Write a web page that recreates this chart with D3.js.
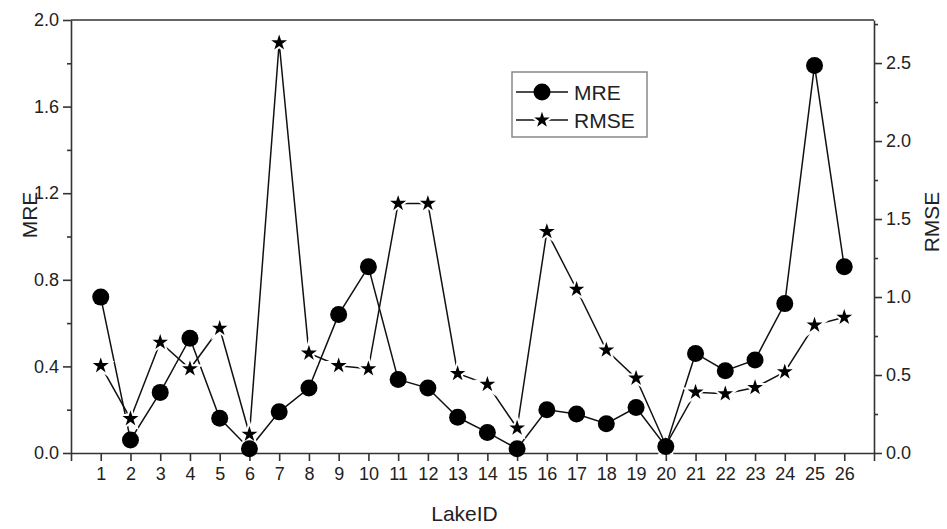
<!DOCTYPE HTML>
<head>
    <script src="https://cdn.jsdelivr.net/npm/d3@7"></script>
</head>
<body style="margin:0">
    <svg width="947" height="529"></svg>
</body>
<style>
text { font-family: "Liberation Sans", Arial, sans-serif; fill: #222; }
.axis path, .axis line { stroke: #333; stroke-width: 1.6; }
.axis text { font-size: 18px; fill: #222; }
</style>
<script>
// lake ids and the two error series
var lakes = d3.range(1, 27);
var mre  = [0.72, 0.06, 0.28, 0.53, 0.16, 0.02, 0.19, 0.30, 0.64, 0.86, 0.34, 0.30, 0.165,
            0.095, 0.02, 0.20, 0.18, 0.135, 0.21, 0.03, 0.46, 0.38, 0.43, 0.69, 1.79, 0.86];
var rmse = [0.56, 0.22, 0.71, 0.54, 0.80, 0.12, 2.63, 0.64, 0.56, 0.54, 1.60, 1.60, 0.51,
            0.44, 0.16, 1.42, 1.05, 0.66, 0.48, 0.05, 0.39, 0.38, 0.42, 0.52, 0.82, 0.87];
var mreTicks = [0, 0.4, 0.8, 1.2, 1.6, 2.0];
var rmseTicks = [0, 0.5, 1.0, 1.5, 2.0, 2.5];

var svg = d3.select("svg"),
    margin = {top: 20, right: 73, bottom: 76, left: 71},
    width = 947 - margin.left - margin.right,
    height = 529 - margin.top - margin.bottom;

var x = d3.scaleLinear().domain([0, 27]).range([0, width]);
var yL = d3.scaleLinear().domain([0, 2.0]).range([height, 0]);
var yR = d3.scaleLinear().domain([0, 2.776]).range([height, 0]);

var g = svg.append("g")
    .attr("transform", "translate(" + margin.left + "," + margin.top + ")");

// frame top line
g.append("line").attr("x1", 0).attr("x2", width).attr("y1", 0).attr("y2", 0)
    .attr("stroke", "#333").attr("stroke-width", 1.6);

// minor ticks
g.append("g").attr("class", "axis")
    .call(d3.axisLeft(yL).tickValues([0.2, 0.6, 1.0, 1.4, 1.8]).tickSize(4).tickFormat(""))
    .select(".domain").remove();
g.append("g").attr("class", "axis")
    .attr("transform", "translate(" + width + ",0)")
    .call(d3.axisRight(yR).tickValues([0.25, 0.75, 1.25, 1.75, 2.25, 2.75]).tickSize(4).tickFormat(""))
    .select(".domain").remove();

// major axes
g.append("g").attr("class", "axis")
    .call(d3.axisLeft(yL).tickValues(mreTicks).tickSize(8).tickSizeOuter(0).tickPadding(4)
        .tickFormat(d3.format(".1f")));
g.append("g").attr("class", "axis")
    .attr("transform", "translate(" + width + ",0)")
    .call(d3.axisRight(yR).tickValues(rmseTicks).tickSize(8).tickSizeOuter(0).tickPadding(4)
        .tickFormat(d3.format(".1f")));
g.append("g").attr("class", "axis")
    .attr("transform", "translate(0," + height + ")")
    .call(d3.axisBottom(x).tickValues(d3.range(0, 28)).tickSize(8).tickSizeOuter(0).tickPadding(6)
        .tickFormat(function(d) { return (d >= 1 && d <= 26) ? d : ""; }));

// axis titles
g.append("text").attr("x", width / 2 - 8).attr("y", height + 68)
    .attr("text-anchor", "middle").style("font-size", "21px").text("LakeID");
g.append("text").attr("transform", "translate(-34," + 195 + ") rotate(-90)")
    .attr("text-anchor", "middle").style("font-size", "21px").text("MRE");
g.append("text").attr("transform", "translate(" + (width + 65) + "," + 202 + ") rotate(-90)")
    .attr("text-anchor", "middle").style("font-size", "21px").text("RMSE");

// series
var lineL = d3.line().x(function(d, i) { return x(lakes[i]); }).y(function(d) { return yL(d); });
var lineR = d3.line().x(function(d, i) { return x(lakes[i]); }).y(function(d) { return yR(d); });

g.append("path").datum(rmse).attr("d", lineR)
    .attr("fill", "none").attr("stroke", "#111").attr("stroke-width", 1.5);
g.append("path").datum(mre).attr("d", lineL)
    .attr("fill", "none").attr("stroke", "#111").attr("stroke-width", 1.5);

var star = d3.symbol().type(d3.symbolStar).size(150);

g.selectAll(".star").data(rmse).enter().append("path")
    .attr("class", "star")
    .attr("d", star)
    .attr("transform", function(d, i) { return "translate(" + x(lakes[i]) + "," + yR(d) + ")"; })
    .attr("fill", "#000").attr("stroke", "#fff").attr("stroke-width", 2);

g.selectAll(".dot").data(mre).enter().append("circle")
    .attr("class", "dot")
    .attr("cx", function(d, i) { return x(lakes[i]); })
    .attr("cy", function(d) { return yL(d); })
    .attr("r", 8.5).attr("fill", "#000");

// legend
var lg = svg.append("g").attr("transform", "translate(512,72)");
lg.append("rect").attr("width", 135).attr("height", 65)
    .attr("fill", "#fff").attr("stroke", "#888").attr("stroke-width", 1.5);
lg.append("line").attr("x1", 4).attr("x2", 56).attr("y1", 20).attr("y2", 20)
    .attr("stroke", "#111").attr("stroke-width", 1.5);
lg.append("circle").attr("cx", 30).attr("cy", 20).attr("r", 8.5).attr("fill", "#000");
lg.append("line").attr("x1", 4).attr("x2", 56).attr("y1", 48).attr("y2", 48)
    .attr("stroke", "#111").attr("stroke-width", 1.5);
lg.append("path").attr("d", star).attr("transform", "translate(30,48)")
    .attr("fill", "#000").attr("stroke", "#fff").attr("stroke-width", 2);
lg.append("text").attr("x", 62).attr("y", 28).style("font-size", "21px").text("MRE");
lg.append("text").attr("x", 62).attr("y", 56).style("font-size", "21px").text("RMSE");
</script>
